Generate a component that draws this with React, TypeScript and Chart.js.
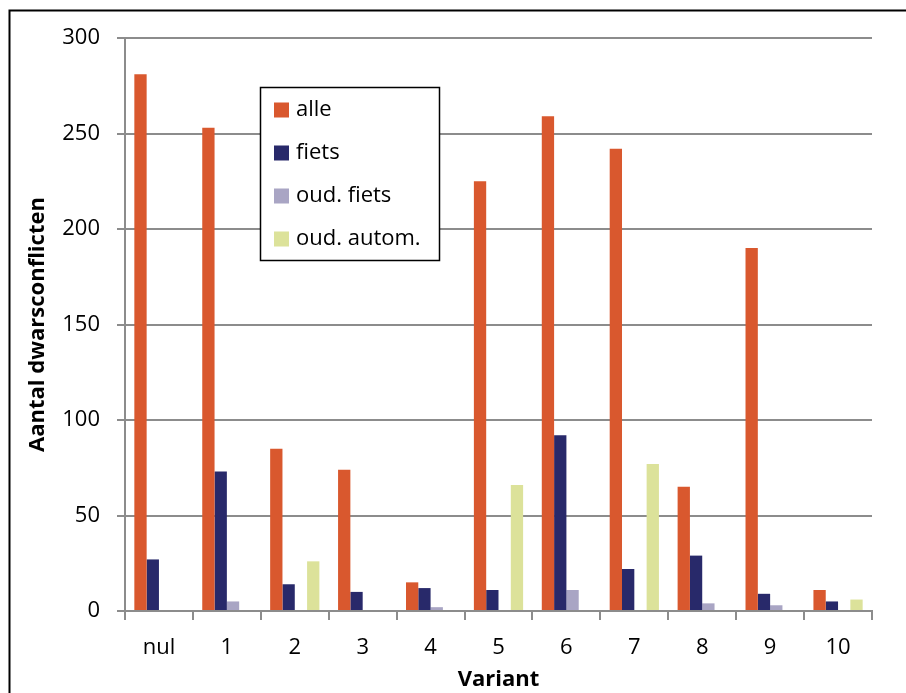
import React, { useEffect, useRef } from "react";
import { Chart, registerables } from "chart.js";

Chart.register(...registerables);

const categories = ["nul", "1", "2", "3", "4", "5", "6", "7", "8", "9", "10"];
const seriesNames = ["alle", "fiets", "oud. fiets", "oud. autom."];
const alle = [281, 253, 85, 74, 15, 225, 259, 242, 65, 190, 11];
const fiets = [27, 73, 14, 10, 12, 11, 92, 22, 29, 9, 5];
const oudFiets = [0, 5, 0, 0, 2, 0, 11, 0, 4, 3, 0];
const oudAutom = [0, 0, 26, 0, 0, 66, 0, 77, 0, 0, 6];
const seriesColors = ["#D9582E", "#28296A", "#A9A5C4", "#DCE29A"];
const yMin = 0;
const yMax = 300;
const yStep = 50;
const xTitle = "Variant";
const yTitle = "Aantal dwarsconflicten";

const FONT = "'Open Sans', sans-serif";
const GRID = "#8c8c8c";

const framePlugin = {
  id: "frame",
  afterDraw(chart: any) {
    const ctx = chart.ctx;
    ctx.save();
    ctx.strokeStyle = "#000";
    ctx.lineWidth = 2;
    ctx.beginPath();
    ctx.moveTo(9.5, 700);
    ctx.lineTo(9.5, 10.5);
    ctx.lineTo(910, 10.5);
    ctx.stroke();
    ctx.restore();
  },
};

const boxLegendPlugin = {
  id: "boxLegend",
  afterDraw(chart: any) {
    const ctx = chart.ctx;
    const x0 = 260.5;
    const y0 = 87.5;
    const w = 179;
    const h = 173;
    ctx.save();
    ctx.fillStyle = "#fff";
    ctx.fillRect(x0, y0, w, h);
    ctx.strokeStyle = "#000";
    ctx.lineWidth = 1.5;
    ctx.strokeRect(x0, y0, w, h);
    ctx.font = `22px ${FONT}`;
    ctx.textBaseline = "middle";
    ctx.textAlign = "left";
    chart.data.datasets.forEach((ds: any, i: number) => {
      const cy = 110 + i * 43;
      ctx.fillStyle = ds.backgroundColor;
      ctx.fillRect(274, cy - 7.5, 15, 15);
      ctx.fillStyle = "#000";
      ctx.fillText(ds.label, 296, cy);
    });
    ctx.restore();
  },
};

export default function App() {
  const ref = useRef<HTMLCanvasElement>(null);
  useEffect(() => {
    document.body.style.margin = "0";
    const values = [alle, fiets, oudFiets, oudAutom];
    const chart = new Chart(ref.current as HTMLCanvasElement, {
      type: "bar",
      data: {
        labels: categories,
        datasets: seriesNames.map((name, i) => ({
          label: name,
          data: values[i],
          backgroundColor: seriesColors[i],
          borderWidth: 0,
          barPercentage: 1,
          categoryPercentage: 0.725,
        })),
      },
      options: {
        responsive: false,
        animation: false,
        devicePixelRatio: 1,
        layout: { padding: { left: 0, top: 38, right: 34, bottom: 0 } },
        plugins: {
          legend: { display: false },
          tooltip: { enabled: false },
        },
        scales: {
          x: {
            offset: true,
            grid: {
              offset: true,
              drawOnChartArea: false,
              drawTicks: true,
              tickLength: 9,
              color: GRID,
              lineWidth: 2,
            },
            border: { display: true, color: GRID, width: 2 },
            ticks: {
              color: "#000",
              font: { family: FONT, size: 22 },
              padding: 15,
              maxRotation: 0,
            },
            title: {
              display: true,
              text: xTitle,
              color: "#000",
              font: { family: FONT, size: 22, weight: "bold" },
              padding: { top: 0, bottom: 0 },
            },
            afterFit(scale: any) {
              scale.height = 82;
            },
          },
          y: {
            min: yMin,
            max: yMax,
            ticks: {
              stepSize: yStep,
              color: "#000",
              font: { family: FONT, size: 22 },
              padding: 17,
            },
            grid: {
              color: GRID,
              lineWidth: 2,
              tickLength: 8,
              drawTicks: true,
            },
            border: { display: true, color: GRID, width: 2 },
            title: {
              display: true,
              text: yTitle,
              color: "#000",
              font: { family: FONT, size: 22, weight: "bold" },
              padding: { top: 25, bottom: 0 },
            },
            afterFit(scale: any) {
              scale.width = 125;
            },
          },
        },
      },
      plugins: [framePlugin, boxLegendPlugin],
    } as any);
    return () => chart.destroy();
  }, []);
  return (
    <div style={{ position: "absolute", left: 0, top: 0, width: 906, height: 693, background: "#fff" }}>
      <canvas ref={ref} width={906} height={693} style={{ display: "block" }} />
    </div>
  );
}
